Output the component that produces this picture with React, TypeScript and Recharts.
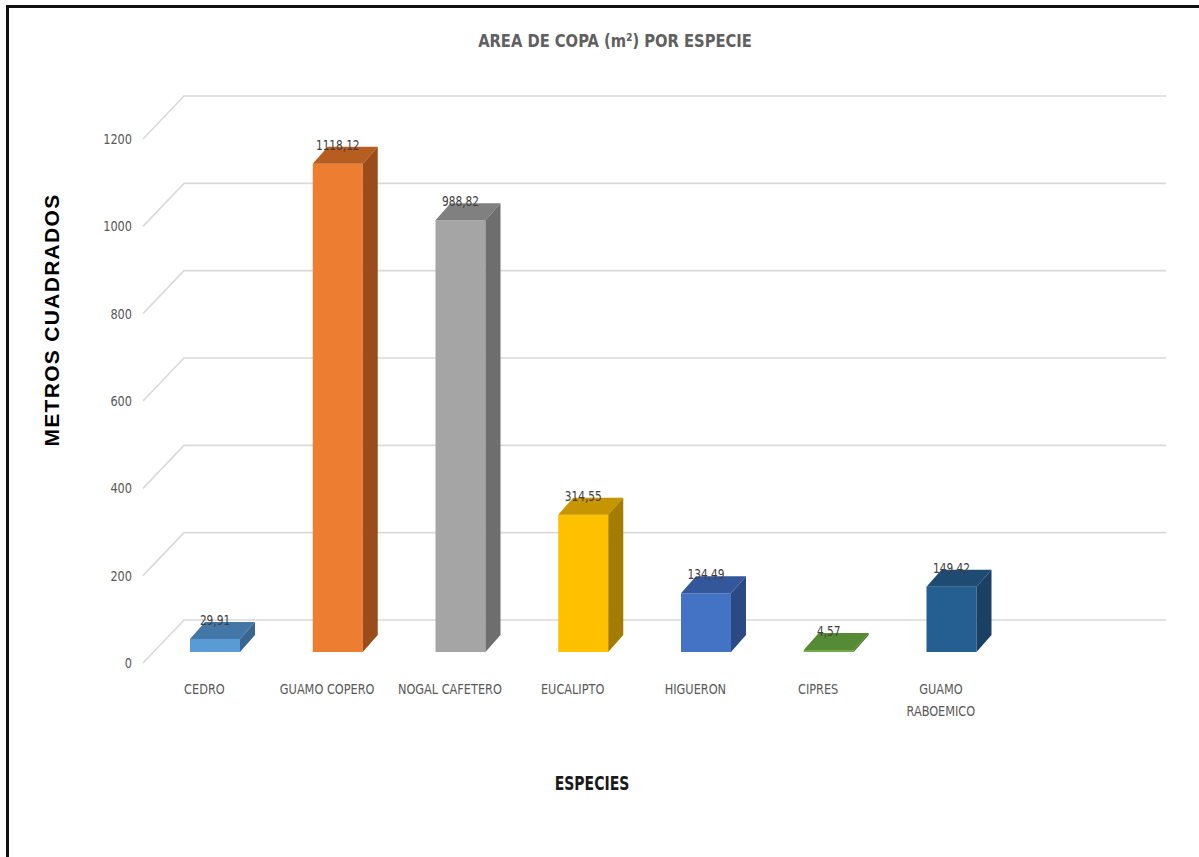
import React from "react";
import {
  BarChart,
  Bar,
  XAxis,
  YAxis,
  CartesianGrid,
  LabelList,
} from "recharts";

const species = [
  "CEDRO",
  "GUAMO COPERO",
  "NOGAL CAFETERO",
  "EUCALIPTO",
  "HIGUERON",
  "CIPRES",
  "GUAMO RABOEMICO",
  "",
];
const crownArea: (number | null)[] = [
  29.91, 1118.12, 988.82, 314.55, 134.49, 4.57, 149.42, null,
];
const yTicks = [0, 200, 400, 600, 800, 1000, 1200];

const data = species.map((name, i) => ({ name, area: crownArea[i] }));

// front / top / side face colours for each column
const faces = [
  ["#5B9BD5", "#4277A8", "#386691"],
  ["#ED7D31", "#B85D20", "#9A4D1B"],
  ["#A5A5A5", "#808080", "#6E6E6E"],
  ["#FFC000", "#C69500", "#A47C00"],
  ["#4472C4", "#33579A", "#2B4A84"],
  ["#70AD47", "#568A35", "#4A772D"],
  ["#255E91", "#1D4B74", "#1A4064"],
];

const NARROW = "'Liberation Sans Narrow', 'DejaVu Sans Condensed', 'Roboto Condensed', sans-serif";

// wall depth (grid) and column depth
const WALL_DX = 41;
const WALL_DY = 43;
const COL_X = 11;
const COL_Y = -11;
const COL_DX = 15;
const COL_DY = 17;

// horizontally squeezed text, anchored at (x, y)
const Squeezed = ({ x, y, sx, anchor = "middle", children, ...rest }: any) => (
  <text
    transform={`translate(${x},${y}) scale(${sx},1)`}
    x={0}
    y={0}
    textAnchor={anchor}
    fontFamily={NARROW}
    {...rest}
  >
    {children}
  </text>
);

const Column3D = (props: any) => {
  const { x, y, width, height, index, payload } = props;
  if (payload == null || payload.area == null) return null;
  const [front, top, side] = faces[index % faces.length];
  const fx = x + COL_X;
  const fy = y + COL_Y;
  const h = Math.max(height, 0);
  return (
    <g>
      <rect x={fx} y={fy} width={width} height={h} fill={front} />
      <polygon
        points={`${fx},${fy} ${fx + COL_DX},${fy - COL_DY} ${fx + width + COL_DX},${fy - COL_DY} ${fx + width},${fy}`}
        fill={top}
      />
      <polygon
        points={`${fx + width},${fy} ${fx + width + COL_DX},${fy - COL_DY} ${fx + width + COL_DX},${fy + h - COL_DY} ${fx + width},${fy + h}`}
        fill={side}
      />
    </g>
  );
};

const WallLine = (p: any) => {
  const { x1, y1, x2 } = p;
  const by = y1 - WALL_DY;
  return (
    <path
      key={p.key}
      d={`M${x1},${y1} L${x1 + WALL_DX},${by} L${x2 + WALL_DX},${by}`}
      fill="none"
      stroke="#D9D9D9"
      strokeWidth={1.6}
    />
  );
};

const CategoryTick = ({ x, y, payload }: any) => {
  const words = String(payload.value).split(" ");
  const lines: string[] = [];
  words.forEach((w) => {
    const last = lines[lines.length - 1];
    if (last != null && (last + " " + w).length <= 14) lines[lines.length - 1] = last + " " + w;
    else lines.push(w);
  });
  return (
    <g>
      {lines.map((l, i) => (
        <Squeezed key={i} x={x} y={y + 29 + i * 22} sx={0.9} fill="#595959" fontSize={14}>
          {l}
        </Squeezed>
      ))}
    </g>
  );
};

const ValueTick = ({ x, y, payload }: any) => (
  <Squeezed x={x} y={y + 5} sx={0.9} anchor="end" fill="#595959" fontSize={14}>
    {payload.value}
  </Squeezed>
);

const valueLabel = (p: any) => {
  if (p.value == null) return null;
  return (
    <Squeezed
      x={p.x + p.width / 2 + COL_X}
      y={p.y + COL_Y - 14}
      sx={0.84}
      fill="#404040"
      fontSize={14}
    >
      {Number(p.value).toFixed(2).replace(".", ",")}
    </Squeezed>
  );
};

export default function App() {
  return (
    <div style={{ position: "absolute", left: 0, top: 0, width: 1199, height: 857, background: "#fff" }}>
      <div
        style={{
          position: "absolute",
          left: 6,
          top: 5,
          width: 1193,
          height: 852,
          borderTop: "3px solid #111",
          borderLeft: "3px solid #111",
          boxSizing: "border-box",
        }}
      />
      <div style={{ position: "absolute", left: 0, top: 0 }}>
        <BarChart
          width={1199}
          height={857}
          data={data}
          margin={{ top: 139, right: 74, left: 83, bottom: 134 }}
          barSize={50}
        >
          <CartesianGrid vertical={false} horizontal={WallLine} />
          <XAxis
            dataKey="name"
            axisLine={false}
            tickLine={false}
            tickSize={0}
            height={60}
            interval={0}
            tick={<CategoryTick />}
            label={{
              content: ({ viewBox }: any) => (
                <Squeezed
                  x={viewBox.x + 449}
                  y={viewBox.y + 127}
                  sx={0.82}
                  fill="#1A1A1A"
                  fontSize={19}
                  fontWeight="bold"
                >
                  ESPECIES
                </Squeezed>
              ),
            }}
          />
          <YAxis
            domain={[0, 1200]}
            ticks={yTicks}
            axisLine={false}
            tickLine={false}
            tickSize={0}
            tickMargin={11}
            width={60}
            tick={<ValueTick />}
            label={{
              content: ({ viewBox }: any) => {
                const cx = viewBox.x - 32;
                const cy = 320;
                return (
                  <g>
                    <text
                      x={cx}
                      y={cy}
                      transform={`rotate(-90 ${cx} ${cy})`}
                      textAnchor="middle"
                      dominantBaseline="central"
                      fill="#000"
                      fontSize={21}
                      fontWeight="bold"
                      letterSpacing={1.3}
                      fontFamily="'Liberation Sans', Arial, sans-serif"
                    >
                      METROS  CUADRADOS
                    </text>
                    {/* chart title */}
                    <Squeezed
                      x={615}
                      y={47}
                      sx={0.91}
                      fill="#606060"
                      fontSize={18}
                      fontWeight="bold"
                    >
                      AREA DE COPA (m²) POR ESPECIE
                    </Squeezed>
                  </g>
                );
              },
            }}
          />
          <Bar dataKey="area" shape={Column3D} isAnimationActive={false}>
            <LabelList dataKey="area" content={valueLabel} />
          </Bar>
        </BarChart>
      </div>
    </div>
  );
}
